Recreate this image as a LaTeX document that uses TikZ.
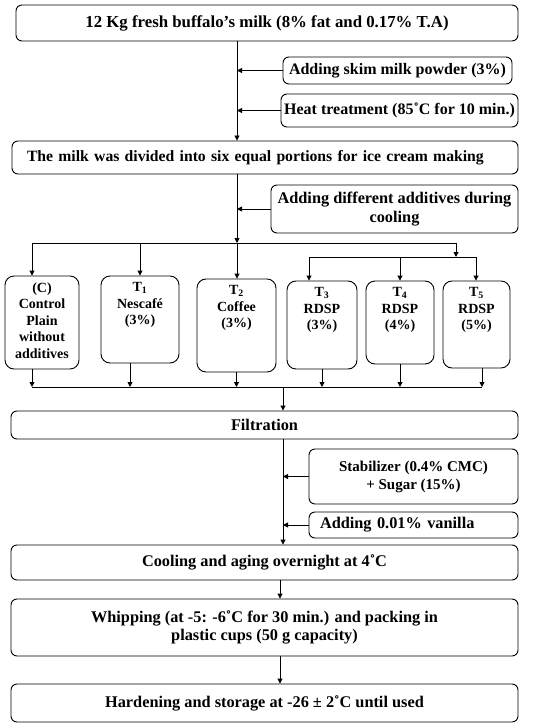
\documentclass[tikz,border=0pt]{standalone}
\usepackage{fontspec}
\setmainfont{Liberation Serif}
\usetikzlibrary{positioning,arrows.meta}

\begin{document}
\begin{tikzpicture}[x=1pt, y=-1pt, font=\fontsize{14}{16.5}\selectfont\bfseries, line width=0.9pt,
  stepbox/.style={draw, rounded corners=6pt, inner sep=2pt, align=center, font=\fontsize{16.3}{18.5}\selectfont\bfseries},
  tbox/.style={draw, rounded corners=9pt},
  tlabel/.style={anchor=north, align=center, yshift=-3pt},
  arr/.style={-{Triangle[length=5pt,width=5pt]}}]
\useasboundingbox (0,0) rectangle (538,727);

\node[stepbox, minimum width=502pt, minimum height=36pt, font=\fontsize{16.8}{19}\selectfont\bfseries] (milk) at (267,23) {12 Kg fresh buffalo’s milk (8\% fat and 0.17\% T.A)};
\node[stepbox, minimum width=229pt, minimum height=27pt, font=\fontsize{16}{18.5}\selectfont\bfseries] (skim) at (397.5,70.5) {Adding skim milk powder (3\%)};
\node[stepbox, minimum width=237pt, minimum height=33pt, font=\fontsize{16}{18.5}\selectfont\bfseries] (heat) at (399.5,110.5) {Heat treatment (85˚C for 10 min.)};
\node[stepbox, text width=476pt, align=left, inner xsep=15pt, minimum height=33pt, font=\fontsize{15.7}{18.5}\selectfont\bfseries] (divide) at (265,157.5) {The milk was divided into six equal portions for ice cream making};
\node[stepbox, minimum width=247pt, minimum height=48pt] (additive) at (394.5,209) {Adding different additives during\\cooling};

\node[tbox, minimum width=74pt, minimum height=93pt, label={[tlabel]north:{(C)\\Control\\Plain\\without\\additives}}] (ctrl) at (42,322.5) {};
\node[tbox, minimum width=78pt, minimum height=87pt, label={[tlabel]north:{T\textsubscript{1}\\Nescafé\\(3\%)}}] (t1) at (140,319.5) {};
\node[tbox, minimum width=79pt, minimum height=93pt, label={[tlabel]north:{T\textsubscript{2}\\Coffee\\(3\%)}}] (t2) at (236.5,325.5) {};
\node[tbox, minimum width=70pt, minimum height=88pt, label={[tlabel]north:{T\textsubscript{3}\\RDSP\\(3\%)}}] (t3) at (322,325) {};
\node[tbox, minimum width=68pt, minimum height=83pt, label={[tlabel]north:{T\textsubscript{4}\\RDSP\\(4\%)}}] (t4) at (400,322.5) {};
\node[tbox, minimum width=67pt, minimum height=87pt, label={[tlabel]north:{T\textsubscript{5}\\RDSP\\(5\%)}}] (t5) at (476.5,324.5) {};

\node[stepbox, minimum width=507pt, minimum height=28pt] (filt) at (264.5,425) {Filtration};
\node[stepbox, minimum width=209pt, minimum height=55pt, font=\fontsize{15}{18}\selectfont\bfseries] (stab) at (413.5,476.5) {Stabilizer (0.4\% CMC)\\+ Sugar (15\%)};
\node[stepbox, text width=187pt, align=left, inner xsep=11pt, minimum height=26pt] (vanilla) at (413.5,525) {Adding 0.01\% vanilla};
\node[stepbox, minimum width=507pt, minimum height=35pt] (cool) at (264.5,562.5) {Cooling and aging overnight at 4˚C};
\node[stepbox, minimum width=507pt, minimum height=57pt] (whip) at (264.5,627.5) {Whipping (at -5: -6˚C for 30 min.) and packing in\\plastic cups (50 g capacity)};
\node[stepbox, minimum width=507pt, minimum height=38pt] (hard) at (264.5,703) {Hardening and storage at -26 ± 2˚C until used};

\coordinate (split) at (237,243);
\coordinate (brL) at (32,243);
\coordinate (brR) at (456,243);
\coordinate (subL) at (309,257);
\coordinate (subR) at (476,257);
\coordinate (collL) at (32,387);
\coordinate (collR) at (482,387);
\coordinate (join) at (283,387);

\draw[arr] (milk.south -| split) -- (divide.north -| split);
\draw[arr] (skim.west) -- (skim.west -| split);
\draw[arr] (heat.west) -- (heat.west -| split);
\draw[arr] (divide.south -| split) -- (split);
\draw[arr] (additive.west) -- (additive.west -| split);

\draw (brL) -- (brR);
\draw[arr] (brL) -- (brL |- ctrl.north);
\draw[arr] (split -| t1.north) -- (t1.north);
\draw[arr] (split) -- (split |- t2.north);
\draw[arr] (brR) -- (brR |- subR);
\draw (subL) -- (subR);
\draw[arr] (subL) -- (subL |- t3.north);
\draw[arr] (subL -| t4.north) -- (t4.north);
\draw[arr] (subR) -- (subR |- t5.north);

\draw[arr] (ctrl.south -| collL) -- (collL);
\draw[arr] ([xshift=-10pt]t1.south) -- ([xshift=-10pt]t1.south |- collL);
\draw[arr] (t2.south) -- (t2.south |- collL);
\draw[arr] (t3.south) -- (t3.south |- collL);
\draw[arr] (t4.south) -- (t4.south |- collL);
\draw[arr] (t5.south -| collR) -- (collR);
\draw (collL) -- (collR);
\draw[arr] (join) -- (join |- filt.north);

\draw[arr] (filt.south -| join) -- (cool.north -| join);
\draw[arr] (stab.west) -- (stab.west -| join);
\draw[arr] (vanilla.west) -- (vanilla.west -| join);
\draw[arr] ([xshift=15.5pt]cool.south) -- ([xshift=15.5pt]whip.north);
\draw[arr] ([xshift=15.5pt]whip.south) -- ([xshift=15.5pt]hard.north);
\end{tikzpicture}
\end{document}
